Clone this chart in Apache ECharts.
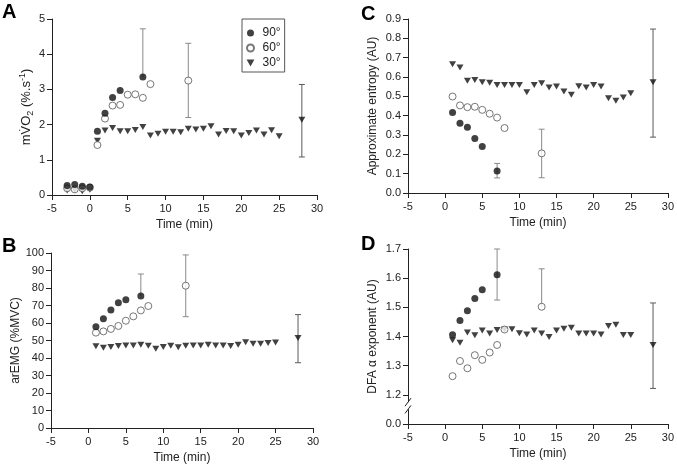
<!DOCTYPE html>
<html><head><meta charset="utf-8">
<script src="https://cdn.jsdelivr.net/npm/echarts@6/dist/echarts.min.js"></script>
<style>html,body{margin:0;padding:0;background:#fff}#c{width:677px;height:468px}</style>
</head><body><div id="c"></div>
<script>
// ---------- data ----------
const seriesNames = ['90°', '60°', '30°'];
const xTickLabels = [-5, 0, 5, 10, 15, 20, 25, 30];

// Panel A: mVO2
const a90x = [-3, -2, -1, 0, 1, 2, 3, 4, 7];
const a90y = [0.27, 0.30, 0.25, 0.23, 1.81, 2.32, 2.77, 2.97, 3.35];
const a60x = [-3, -2, -1, 0, 1, 2, 3, 4, 5, 6, 7, 8, 13];
const a60y = [0.19, 0.16, 0.19, 0.21, 1.42, 2.17, 2.54, 2.56, 2.85, 2.86, 2.76, 3.15, 3.25];
const a30x = [-3, -2, -1, 0, 1, 2, 3, 4, 5, 6, 7, 8, 9, 10, 11, 12, 13, 14, 15, 16, 17, 18, 19, 20, 21, 22, 23, 24, 25, 28];
const a30y = [0.13, 0.14, 0.11, 0.15, 1.54, 1.83, 1.90, 1.81, 1.81, 1.85, 1.93, 1.69, 1.74, 1.80, 1.80, 1.78, 1.88, 1.86, 1.88, 1.95, 1.72, 1.82, 1.81, 1.69, 1.76, 1.83, 1.72, 1.84, 1.67, 2.14];
const aErrX = [7, 13, 28];
const aErrLow = [3.35, 2.20, 1.08];
const aErrHigh = [4.72, 4.31, 3.14];

// Panel B: arEMG
const b90x = [1, 2, 3, 4, 5, 7];
const b90y = [57.9, 62.5, 67.4, 71.6, 73.3, 75.4];
const b60x = [1, 2, 3, 4, 5, 6, 7, 8, 13];
const b60y = [54.5, 55.2, 56.6, 58.3, 61.3, 63.8, 67.2, 69.7, 81.3];
const b30x = [1, 2, 3, 4, 5, 6, 7, 8, 9, 10, 11, 12, 13, 14, 15, 16, 17, 18, 19, 20, 21, 22, 23, 24, 25, 28];
const b30y = [46.7, 45.9, 46.3, 46.9, 47.2, 47.2, 47.6, 47.0, 45.3, 46.3, 47.0, 46.1, 47.0, 47.2, 47.2, 47.6, 47.2, 47.2, 46.9, 47.6, 49.0, 48.2, 48.2, 48.6, 48.8, 51.4];
const bErrX = [7, 13, 28];
const bErrLow = [75.4, 63.6, 37.3];
const bErrHigh = [88.0, 98.9, 64.8];

// Panel C: approximate entropy
const c90x = [1, 2, 3, 4, 5, 7];
const c90y = [0.416, 0.361, 0.340, 0.282, 0.241, 0.114];
const c60x = [1, 2, 3, 4, 5, 6, 7, 8, 13];
const c60y = [0.499, 0.453, 0.444, 0.446, 0.430, 0.410, 0.390, 0.336, 0.205];
const c30x = b30x;
const c30y = [0.666, 0.649, 0.580, 0.585, 0.573, 0.570, 0.559, 0.559, 0.559, 0.559, 0.521, 0.559, 0.568, 0.546, 0.551, 0.525, 0.508, 0.552, 0.546, 0.558, 0.551, 0.490, 0.477, 0.494, 0.516, 0.573];
const cErrX = [7, 13, 28];
const cErrLow = [0.078, 0.079, 0.289];
const cErrHigh = [0.153, 0.330, 0.848];

// Panel D: DFA alpha exponent
const d90x = [1, 2, 3, 4, 5, 7];
const d90y = [1.406, 1.455, 1.488, 1.530, 1.560, 1.612];
const d60x = [1, 2, 3, 4, 5, 6, 7, 8, 13];
const d60y = [1.264, 1.316, 1.291, 1.336, 1.320, 1.345, 1.371, 1.424, 1.502];
const d30x = b30x;
const d30y = [1.387, 1.379, 1.414, 1.404, 1.421, 1.410, 1.422, 1.424, 1.425, 1.411, 1.407, 1.421, 1.410, 1.398, 1.421, 1.427, 1.430, 1.410, 1.410, 1.410, 1.407, 1.436, 1.440, 1.405, 1.405, 1.371];
const dErrX = [7, 13, 28];
const dErrLow = [1.525, 1.502, 1.222];
const dErrHigh = [1.700, 1.632, 1.515];

// ---------- chart ----------
const FF = '"Liberation Sans", Arial, Helvetica, sans-serif';
const INK = '#222';
const zip = (xs, ys) => xs.map((x, i) => [x, ys[i]]);
const DOWN_TRI = 'path://M0,0L10,0L5,9Z';

const panels = [
  { letter: 'A', grid: { left: 52, top: 19, width: 265, height: 176 }, title: { left: 2, top: 2 },
    y: { min: 0, max: 5, interval: 1, fmt: v => String(v), nameGap: 14,
         name: '{a|mV\u0307O}{s|2}{a| (%.s}{p|-1}{a|)}' },
    s90: zip(a90x, a90y), s60: zip(a60x, a60y), s30: zip(a30x, a30y),
    err: [aErrX, aErrLow, aErrHigh, [0, 1, 1]] },
  { letter: 'B', grid: { left: 51, top: 253, width: 262, height: 175 }, title: { left: 2, top: 236 },
    y: { min: 0, max: 100, interval: 10, fmt: v => String(v), nameGap: 29, name: 'arEMG (%MVC)' },
    s90: zip(b90x, b90y), s60: zip(b60x, b60y), s30: zip(b30x, b30y),
    err: [bErrX, bErrLow, bErrHigh, [0, 1, 1]] },
  { letter: 'C', grid: { left: 408, top: 19, width: 262, height: 174 }, title: { left: 361, top: 4 },
    y: { min: 0, max: 0.9, interval: 0.1, fmt: v => v.toFixed(1), nameGap: 29, name: 'Approximate entropy (AU)' },
    s90: zip(c90x, c90y), s60: zip(c60x, c60y), s30: zip(c30x, c30y),
    err: [cErrX, cErrLow, cErrHigh, [1, 1, 1]] },
  { letter: 'D', grid: { left: 408, top: 249, width: 263, height: 175 }, title: { left: 361, top: 234 },
    y: { min: 1.1, max: 1.7, interval: 0.1, fmt: v => (v < 1.15 ? '0.0' : v.toFixed(1)), nameGap: 29,
         name: 'DFA \u03b1 exponent (AU)' },
    s90: zip(d90x, d90y), s60: zip(d60x, d60y), s30: zip(d30x, d30y),
    err: [dErrX, dErrLow, dErrHigh, [1, 0, 1]] }
];

const axisLineStyle = { color: INK, width: 1 };
const option = {
  animation: false,
  backgroundColor: '#fff',
  textStyle: { fontFamily: FF },
  title: panels.map(p => ({ text: p.letter, left: p.title.left, top: p.title.top, padding: 0,
    textStyle: { fontSize: 20, fontWeight: 'bold', color: '#000', fontFamily: FF } })),
  legend: {
    left: 242, top: 19, orient: 'vertical', selectedMode: false,
    data: [
      { name: seriesNames[0], icon: 'circle' },
      { name: seriesNames[1], icon: 'circle' },
      { name: seriesNames[2], icon: DOWN_TRI }
    ],
    borderColor: '#555', borderWidth: 1, borderRadius: 0,
    padding: [8, 4, 3, 4], itemGap: 3, itemWidth: 14, itemHeight: 7, itemTextGap: 12,
    textStyle: { fontSize: 12, color: INK, fontFamily: FF }
  },
  grid: panels.map(p => Object.assign({ containLabel: false }, p.grid)),
  xAxis: panels.map((p, i) => ({
    type: 'value', gridIndex: i, min: xTickLabels[0], max: xTickLabels[xTickLabels.length - 1], interval: 5,
    name: 'Time (min)', nameLocation: 'middle', nameGap: 24,
    nameTextStyle: { fontSize: 12, color: INK, fontFamily: FF },
    axisLine: { show: true, onZero: false, lineStyle: axisLineStyle },
    axisTick: { show: true, inside: false, length: 5, lineStyle: axisLineStyle },
    axisLabel: { fontSize: 11, color: INK, margin: 8, fontFamily: FF },
    splitLine: { show: false }
  })),
  yAxis: panels.map((p, i) => ({
    type: 'value', gridIndex: i, min: p.y.min, max: p.y.max, interval: p.y.interval,
    name: p.y.name, nameLocation: 'middle', nameGap: p.y.nameGap, nameRotate: 90,
    nameTextStyle: { fontSize: 12, color: INK, fontFamily: FF,
      rich: { a: { fontSize: 13, lineHeight: 17, color: INK, fontFamily: FF },
              s: { fontSize: 9, lineHeight: 9, verticalAlign: 'bottom', color: INK, fontFamily: FF },
              p: { fontSize: 9, lineHeight: 9, verticalAlign: 'top', color: INK, fontFamily: FF } } },
    axisLine: { show: true, onZero: false, lineStyle: axisLineStyle },
    axisTick: { show: true, inside: false, length: 5, lineStyle: axisLineStyle },
    axisLabel: { fontSize: 11, color: INK, margin: 7, fontFamily: FF, formatter: p.y.fmt },
    splitLine: { show: false }
  })),
  series: []
};

panels.forEach((p, i) => {
  const errData = p.err[0].map((x, k) => [x, p.err[1][k], p.err[2][k], p.err[3][k], k]);
  const errColors = ['#8a8a8a', '#8a8a8a', '#5a5a5a'];
  option.series.push({
    type: 'custom', xAxisIndex: i, yAxisIndex: i, z: 1, silent: true,
    encode: { x: 0, y: [1, 2] },
    data: errData,
    renderItem: (params, api) => {
      const x = api.value(0), lo = api.value(1), hi = api.value(2), capLo = api.value(3), k = api.value(4);
      const p1 = api.coord([x, lo]), p2 = api.coord([x, hi]);
      const w = 3;
      const style = { stroke: errColors[k], lineWidth: 1, fill: null };
      const ch = [
        { type: 'line', shape: { x1: p1[0], y1: p1[1], x2: p2[0], y2: p2[1] }, style },
        { type: 'line', shape: { x1: p2[0] - w, y1: p2[1], x2: p2[0] + w, y2: p2[1] }, style }
      ];
      if (capLo) ch.push({ type: 'line', shape: { x1: p1[0] - w, y1: p1[1], x2: p1[0] + w, y2: p1[1] }, style });
      return { type: 'group', children: ch };
    }
  });
  option.series.push({
    name: '30°', type: 'scatter', xAxisIndex: i, yAxisIndex: i, z: 2,
    symbol: DOWN_TRI, symbolSize: [7, 6],
    itemStyle: { color: '#111' }, data: p.s30
  });
  option.series.push({
    name: '60°', type: 'scatter', xAxisIndex: i, yAxisIndex: i, z: 3,
    symbol: 'circle', symbolSize: 7,
    itemStyle: { color: '#fff', borderColor: '#555', borderWidth: 1 }, data: p.s60
  });
  option.series.push({
    name: '90°', type: 'scatter', xAxisIndex: i, yAxisIndex: i, z: 4,
    symbol: 'circle', symbolSize: 7,
    itemStyle: { color: '#111' }, data: p.s90
  });
});

const chart = echarts.init(document.getElementById('c'), null, { renderer: 'canvas' });
chart.setOption(option);

// axis-break mark on panel D's y axis (between 0.0 and 1.2)
const bTop = chart.convertToPixel({ xAxisIndex: 3, yAxisIndex: 3 }, [-5, 1.175]);
const bBot = chart.convertToPixel({ xAxisIndex: 3, yAxisIndex: 3 }, [-5, 1.150]);
const bx = bTop[0];
chart.setOption({
  graphic: [
    { type: 'rect', shape: { x: bx - 2, y: bTop[1], width: 4, height: bBot[1] - bTop[1] }, style: { fill: '#fff' }, z: 100 },
    { type: 'line', shape: { x1: bx - 3, y1: bTop[1] + 4, x2: bx + 3, y2: bTop[1] - 4 }, style: { stroke: INK, lineWidth: 1 }, z: 101 },
    { type: 'line', shape: { x1: bx - 3, y1: bBot[1] + 4, x2: bx + 3, y2: bBot[1] - 4 }, style: { stroke: INK, lineWidth: 1 }, z: 101 }
  ]
});
</script></body></html>
